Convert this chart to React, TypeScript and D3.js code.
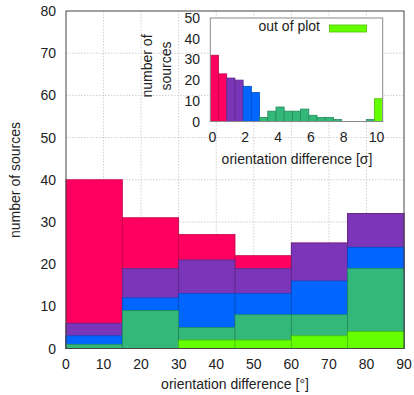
import React from "react";
import * as d3 from "d3";

// Main histogram: orientation difference in degrees, 15° bins
const angleBins = [0, 15, 30, 45, 60, 75];
const angleBinWidth = 15;

// Counts per bin for each significance class
const outOfPlot = [0, 0, 2, 2, 3, 4];
const sigma3to10 = [1, 9, 3, 6, 5, 15];
const sigma2to3 = [2, 3, 8, 5, 8, 5];
const sigma1to2 = [3, 7, 8, 6, 9, 8];
const sigma0to1 = [34, 12, 6, 3, 0, 0];

const seriesKeys = ["out", "s3", "s2", "s1", "s0"];
const seriesColors: Record<string, string> = {
  out: "#66ff00",
  s3: "#33b87a",
  s2: "#0066ff",
  s1: "#7b35b8",
  s0: "#ff0060",
};

const mainXTicks = [0, 10, 20, 30, 40, 50, 60, 70, 80, 90];
const mainYTicks = [0, 10, 20, 30, 40, 50, 60, 70, 80];

// Inset histogram: orientation difference in units of sigma, 0.5σ bins
const sigmaBins = [0, 0.5, 1, 1.5, 2, 2.5, 3, 3.5, 4, 4.5, 5, 5.5, 6, 6.5, 7, 7.5, 8, 8.5, 9, 9.5, 10];
const sigmaCounts = [32, 23, 21, 20, 17, 14, 2, 5, 7, 5, 5, 6, 3, 2, 2, 1, 0, 0, 0, 1, 11];
const sigmaBinWidth = 0.5;
const sigmaBoxOffset = -0.125;
const insetXTicks = [0, 2, 4, 6, 8, 10];
const insetYTicks = [0, 10, 20, 30, 40, 50];

const FONT = "'Liberation Sans', Arial, Helvetica, sans-serif";
const TEXT = "#222";
const GRID = "#c4c4c4";

function sigmaColor(lo: number): string {
  if (lo < 1) return seriesColors.s0;
  if (lo < 2) return seriesColors.s1;
  if (lo < 3) return seriesColors.s2;
  if (lo < 10) return seriesColors.s3;
  return seriesColors.out;
}

function edge(c: string): string {
  return d3.color(c)!.darker(0.8).formatHex();
}

export default function App() {
  const W = 414;
  const H = 395;

  // main plot area
  const x = d3.scaleLinear().domain([0, 90]).range([66, 404]);
  const y = d3.scaleLinear().domain([0, 80]).range([348.5, 11]);

  const rows = angleBins.map((b, i) => ({
    bin: b,
    out: outOfPlot[i],
    s3: sigma3to10[i],
    s2: sigma2to3[i],
    s1: sigma1to2[i],
    s0: sigma0to1[i],
  }));
  const stacked = d3.stack<any>().keys(seriesKeys)(rows);

  // inset plot area
  const ix = d3.scaleLinear().domain([-0.125, 10.375]).range([210.3, 382.7]);
  const iy = d3.scaleLinear().domain([0, 50]).range([121.5, 18]);

  return (
    <svg width={W} height={H} style={{ display: "block", position: "absolute", left: 0, top: 0 }}>
      <rect x={0} y={0} width={W} height={H} fill="#fff" />

      {/* grid */}
      {mainXTicks.slice(1, -1).map((t) => (
        <line key={"gx" + t} x1={x(t)} x2={x(t)} y1={y(0)} y2={y(80)} stroke={GRID} strokeWidth={0.8} strokeDasharray="1.5,1.5" />
      ))}
      {mainYTicks.slice(1, -1).map((t) => (
        <line key={"gy" + t} x1={x(0)} x2={x(90)} y1={y(t)} y2={y(t)} stroke={GRID} strokeWidth={0.8} strokeDasharray="1.5,1.5" />
      ))}

      {/* stacked bars, drawn top layer first so lower layers sit above */}
      {stacked
        .slice()
        .reverse()
        .map((layer) =>
          layer.map((d, i) => {
            const top = d[1];
            if (top <= 0) return null;
            const c = seriesColors[layer.key];
            return (
              <rect
                key={layer.key + i}
                x={x(angleBins[i])}
                width={x(angleBins[i] + angleBinWidth) - x(angleBins[i])}
                y={y(top)}
                height={y(0) - y(top)}
                fill={c}
                stroke={edge(c)}
                strokeWidth={0.8}
              />
            );
          })
        )}

      {/* main frame */}
      <rect x={x(0)} y={y(80)} width={x(90) - x(0)} height={y(0) - y(80)} fill="none" stroke="#444" strokeWidth={1} />

      {/* main tick labels */}
      {mainXTicks.map((t) => (
        <text key={"tx" + t} x={x(t)} y={369} textAnchor="middle" fontFamily={FONT} fontSize={14} fill={TEXT}>
          {t}
        </text>
      ))}
      {mainYTicks.map((t) => (
        <text key={"ty" + t} x={56} y={y(t) + 5} textAnchor="end" fontFamily={FONT} fontSize={14} fill={TEXT}>
          {t}
        </text>
      ))}
      <text x={235} y={389} textAnchor="middle" fontFamily={FONT} fontSize={14} fill={TEXT}>
        orientation difference [°]
      </text>
      <text transform={`translate(20,180) rotate(-90)`} textAnchor="middle" fontFamily={FONT} fontSize={14} fill={TEXT}>
        number of sources
      </text>

      {/* inset */}
      <rect x={ix(-0.125)} y={iy(50)} width={ix(10.375) - ix(-0.125)} height={iy(0) - iy(50)} fill="#fff" />
      <defs>
        <clipPath id="insetClip">
          <rect x={ix(-0.125)} y={iy(50)} width={ix(10.375) - ix(-0.125)} height={iy(0) - iy(50)} />
        </clipPath>
      </defs>
      <g clipPath="url(#insetClip)">
        {sigmaBins.map((lo, i) => {
          const n = sigmaCounts[i];
          if (n <= 0) return null;
          const c = sigmaColor(lo);
          const x0 = ix(lo + sigmaBoxOffset);
          const x1 = ix(lo + sigmaBoxOffset + sigmaBinWidth);
          return (
            <rect key={"ib" + i} x={x0} width={x1 - x0} y={iy(n)} height={iy(0) - iy(n)} fill={c} stroke={edge(c)} strokeWidth={0.8} />
          );
        })}
      </g>
      <rect x={ix(-0.125)} y={iy(50)} width={ix(10.375) - ix(-0.125)} height={iy(0) - iy(50)} fill="none" stroke="#8a8a8a" strokeWidth={1} />

      {/* inset legend */}
      <text x={320} y={31} textAnchor="end" fontFamily={FONT} fontSize={14} fill={TEXT}>
        out of plot
      </text>
      <rect x={329.5} y={25} width={37} height={7} fill={seriesColors.out} stroke={edge(seriesColors.out)} strokeWidth={0.8} />

      {/* inset tick labels */}
      {insetXTicks.map((t) => (
        <text key={"itx" + t} x={ix(t)} y={142} textAnchor="middle" fontFamily={FONT} fontSize={14} fill={TEXT}>
          {t}
        </text>
      ))}
      {insetYTicks.map((t) => (
        <text key={"ity" + t} x={200} y={iy(t) + 5} textAnchor="end" fontFamily={FONT} fontSize={14} fill={TEXT}>
          {t}
        </text>
      ))}
      <text x={297} y={164} textAnchor="middle" fontFamily={FONT} fontSize={14} fill={TEXT}>
        orientation difference [σ]
      </text>
      <text transform={`translate(152,66) rotate(-90)`} textAnchor="middle" fontFamily={FONT} fontSize={14} fill={TEXT}>
        number of
      </text>
      <text transform={`translate(171,66) rotate(-90)`} textAnchor="middle" fontFamily={FONT} fontSize={14} fill={TEXT}>
        sources
      </text>
    </svg>
  );
}
